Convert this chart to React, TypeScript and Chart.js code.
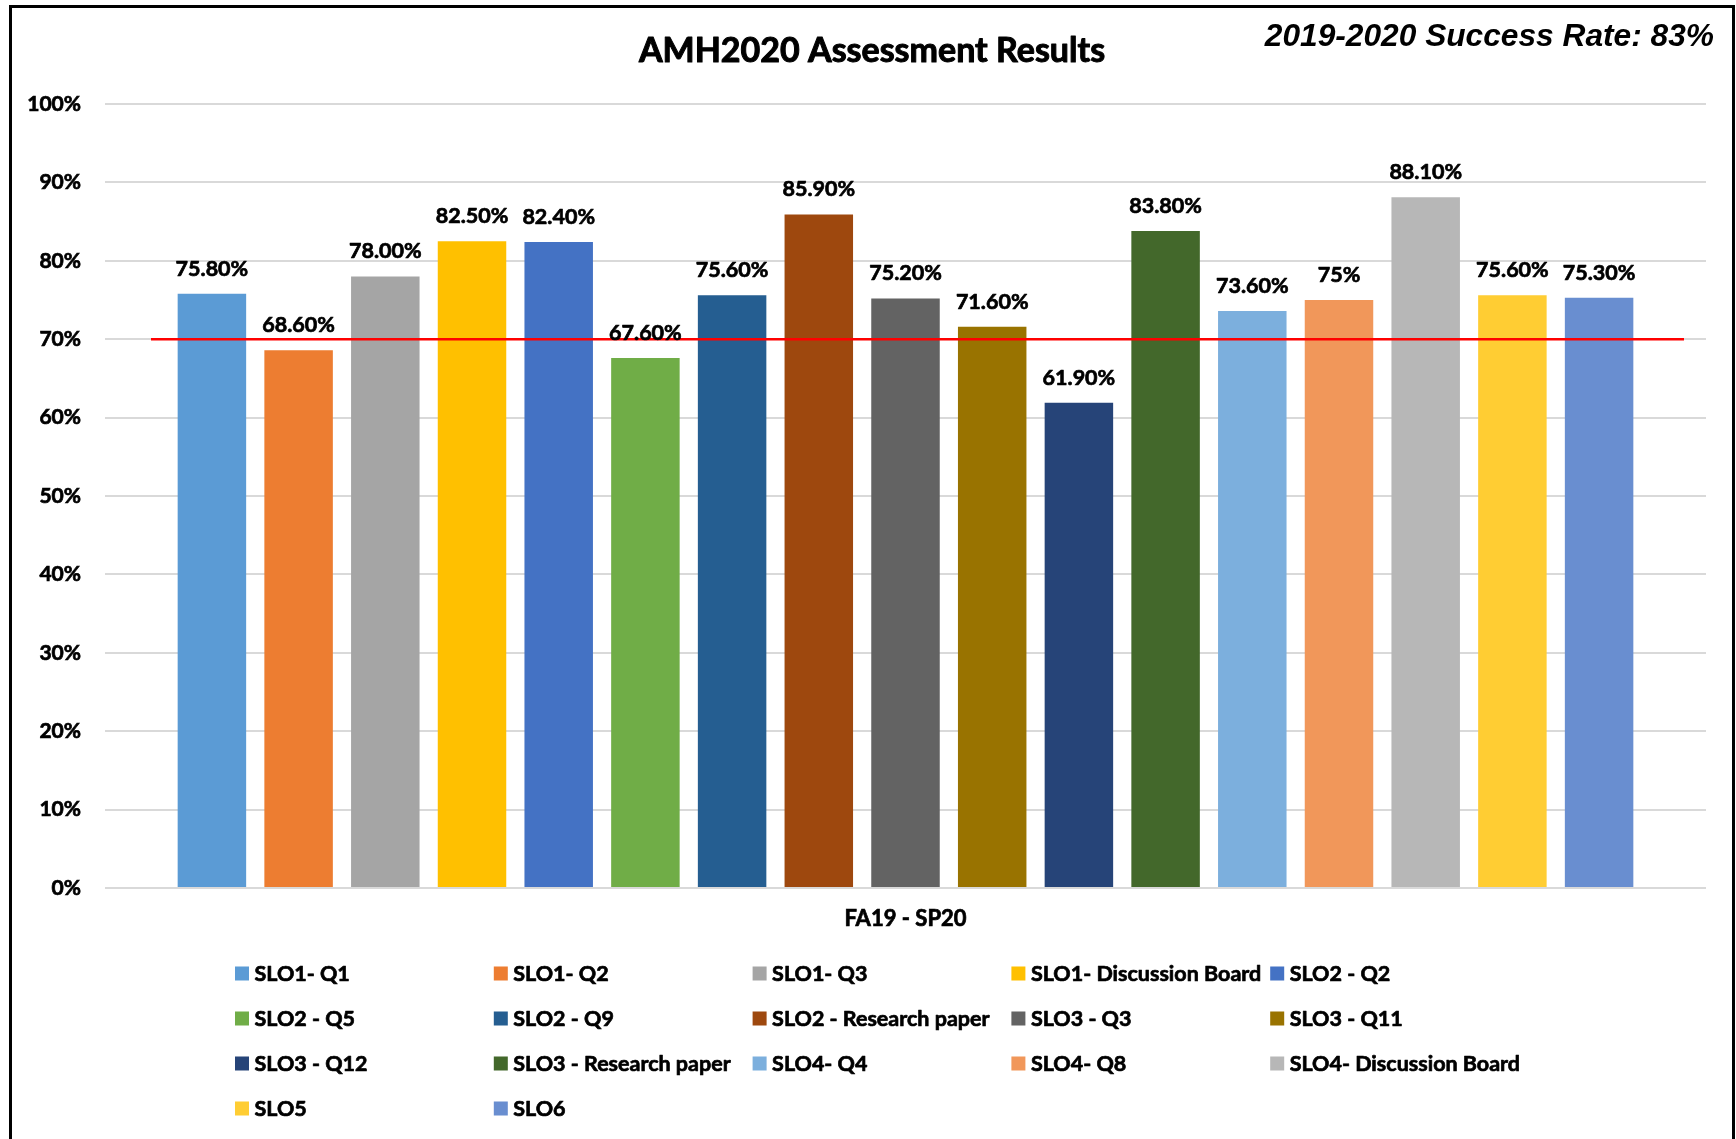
import React, { useEffect, useRef } from "react";
import { Chart, registerables } from "chart.js";

Chart.register(...registerables);

const categories = ["FA19 - SP20"];
const seriesNames = [
  "SLO1- Q1",
  "SLO1- Q2",
  "SLO1- Q3",
  "SLO1- Discussion Board",
  "SLO2 - Q2",
  "SLO2 - Q5",
  "SLO2 - Q9",
  "SLO2 - Research paper",
  "SLO3 - Q3",
  "SLO3 - Q11",
  "SLO3 - Q12",
  "SLO3 - Research paper",
  "SLO4- Q4",
  "SLO4- Q8",
  "SLO4- Discussion Board",
  "SLO5",
  "SLO6",
];
const seriesValues = [75.8, 68.6, 78.0, 82.5, 82.4, 67.6, 75.6, 85.9, 75.2, 71.6, 61.9, 83.8, 73.6, 75, 88.1, 75.6, 75.3];
const valueLabels = [
  "75.80%", "68.60%", "78.00%", "82.50%", "82.40%", "67.60%", "75.60%", "85.90%", "75.20%",
  "71.60%", "61.90%", "83.80%", "73.60%", "75%", "88.10%", "75.60%", "75.30%",
];
const seriesColors = [
  "#5B9BD5", "#ED7D31", "#A5A5A5", "#FFC000", "#4472C4", "#70AD47", "#255E91", "#9E480E", "#636363",
  "#997300", "#264478", "#43682B", "#7CAFDD", "#F1975A", "#B7B7B7", "#FFCD33", "#698ED0",
];
const yTicks = [0, 10, 20, 30, 40, 50, 60, 70, 80, 90, 100];
const targetValue = 70;
const titleText = "AMH2020 Assessment Results";
const subtitleText = "2019-2020 Success Rate: 83%";

const FONT = "Lato, 'Open Sans', sans-serif";
const STROKE = 0.7;

function heavyText(ctx: any, text: string, x: number, y: number, sw = STROKE) {
  ctx.fillText(text, x, y);
  ctx.lineWidth = sw;
  ctx.strokeStyle = "#000";
  ctx.lineJoin = "round";
  ctx.strokeText(text, x, y);
}

const headerPlugin = {
  id: "headerPlugin",
  afterDraw(chart: any) {
    const ctx = chart.ctx;
    ctx.save();
    ctx.fillStyle = "#000";
    ctx.textBaseline = "middle";
    ctx.textAlign = "center";
    ctx.font = `bold 34px ${FONT}`;
    heavyText(ctx, titleText, 872, 51, 1);
    ctx.textAlign = "right";
    ctx.font = "italic bold 31.7px 'Liberation Sans', Arial, sans-serif";
    ctx.fillText(subtitleText, 1714, 37);
    ctx.restore();
  },
};

const targetLinePlugin = {
  id: "targetLine",
  afterDatasetsDraw(chart: any) {
    const { ctx, chartArea, scales } = chart;
    const y = scales.y.getPixelForValue(targetValue);
    ctx.save();
    ctx.strokeStyle = "#FF0000";
    ctx.lineWidth = 2.5;
    ctx.beginPath();
    ctx.moveTo(chartArea.left + 46, y);
    ctx.lineTo(chartArea.right - 22, y);
    ctx.stroke();
    ctx.restore();
  },
};

const valueLabelPlugin = {
  id: "valueLabels",
  afterDatasetsDraw(chart: any) {
    const ctx = chart.ctx;
    ctx.save();
    ctx.fillStyle = "#000";
    ctx.font = `bold 21.5px ${FONT}`;
    ctx.textAlign = "center";
    ctx.textBaseline = "middle";
    chart.data.datasets.forEach((ds: any, i: number) => {
      const meta = chart.getDatasetMeta(i);
      meta.data.forEach((bar: any) => {
        heavyText(ctx, valueLabels[i], bar.x, bar.y - 25);
      });
    });
    ctx.restore();
  },
};

const gridLegendPlugin = {
  id: "gridLegend",
  afterDraw(chart: any) {
    const ctx = chart.ctx;
    const cols = 5;
    const startX = 235;
    const colW = 258.8;
    const startY = 973.5;
    const rowH = 45;
    const box = 14;
    ctx.save();
    ctx.font = `bold 21.5px ${FONT}`;
    ctx.textBaseline = "middle";
    ctx.textAlign = "left";
    chart.data.datasets.forEach((ds: any, i: number) => {
      const c = i % cols;
      const r = Math.floor(i / cols);
      const x = startX + c * colW;
      const y = startY + r * rowH;
      ctx.fillStyle = ds.backgroundColor;
      ctx.fillRect(x, y - box / 2, box, box);
      ctx.fillStyle = "#000";
      heavyText(ctx, ds.label, x + 19.5, y + 1);
    });
    ctx.restore();
  },
};

export default function App() {
  const canvasRef = useRef<HTMLCanvasElement | null>(null);

  useEffect(() => {
    if (!canvasRef.current) return;
    const chart = new Chart(canvasRef.current, {
      type: "bar",
      data: {
        labels: categories,
        datasets: seriesNames.map((name, i) => ({
          label: name,
          data: [seriesValues[i]],
          backgroundColor: seriesColors[i],
          borderWidth: 0,
          categoryPercentage: 0.9206,
          barPercentage: 0.79,
        })),
      },
      options: {
        responsive: false,
        animation: false,
        devicePixelRatio: 1,
        layout: { padding: { left: 0, right: 30, top: 104, bottom: 191 } },
        plugins: {
          legend: { display: false },
          title: { display: false },
          tooltip: { enabled: false },
        },
        scales: {
          x: {
            grid: { display: false, drawTicks: false },
            border: { display: false },
            ticks: {
              padding: 18,
              color: "#000",
              textStrokeColor: "#000",
              textStrokeWidth: STROKE,
              font: { family: FONT, size: 22, weight: "bold" },
            },
            afterFit: (scale: any) => {
              scale.height = 60;
            },
          },
          y: {
            min: 0,
            max: 100,
            afterBuildTicks: (scale: any) => {
              scale.ticks = yTicks.map((v) => ({ value: v }));
            },
            grid: { color: "#D9D9D9", lineWidth: 2, drawTicks: false },
            border: { display: false },
            ticks: {
              padding: 24,
              color: "#000",
              textStrokeColor: "#000",
              textStrokeWidth: STROKE,
              font: { family: FONT, size: 21, weight: "bold" },
              callback: (v: any) => `${v}%`,
            },
            afterFit: (scale: any) => {
              scale.width = 105;
            },
          },
        },
      },
      plugins: [headerPlugin, targetLinePlugin, valueLabelPlugin, gridLegendPlugin],
    });
    return () => chart.destroy();
  }, []);

  return (
    <div style={{ position: "absolute", left: 0, top: 0, width: 1736, height: 1139, background: "#fff", overflow: "hidden" }}>
      <div
        style={{
          position: "absolute",
          left: 9,
          top: 5,
          width: 1726,
          height: 1134,
          boxSizing: "border-box",
          borderLeft: "3px solid #000",
          borderTop: "3px solid #000",
          borderRight: "3px solid #000",
        }}
      />
      <canvas ref={canvasRef} width={1736} height={1139} style={{ position: "absolute", left: 0, top: 0, width: 1736, height: 1139 }} />
    </div>
  );
}
